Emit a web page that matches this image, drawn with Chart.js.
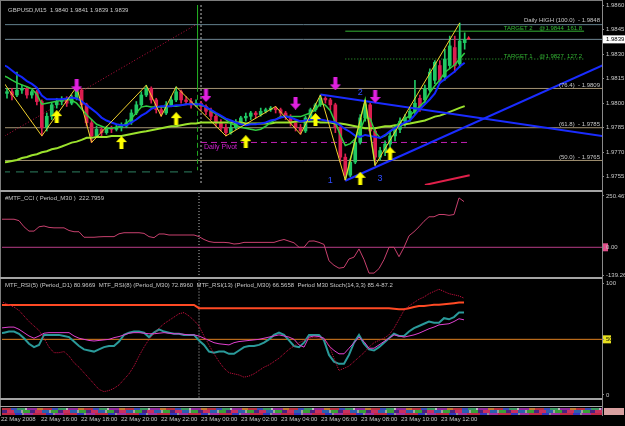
<!DOCTYPE html>
<html>
<head>
<meta charset="utf-8">
<script src="https://cdn.jsdelivr.net/npm/chart.js@4.4.1/dist/chart.umd.min.js"></script>
<style>
  html, body { margin: 0; padding: 0; background: #000; }
  #wrap { position: relative; width: 625px; height: 426px; overflow: hidden; background: #000; }
  .pane { position: absolute; left: 0; width: 625px; }
  .pane canvas { background: #000; }
  .line { position: absolute; background: #a4a4a4; }
  .strip {
    position: absolute; left: 2px; top: 408px; width: 600px; height: 7px;
    background-image:
      repeating-linear-gradient(90deg, #b83040 0 9px, #3a4ab8 9px 15px, #3a9860 15px 23px, #b8b8b8 23px 25px, #902898 25px 35px, #c07830 35px 41px),
      repeating-linear-gradient(90deg, #4a2280 0 5px, #c83060 5px 12px, #2a60b0 12px 19px, #a0a0a0 19px 21px, #38a038 21px 28px),
      repeating-linear-gradient(90deg, #c02848 0 13px, #3434c0 13px 20px, #909090 20px 22px, #a030a0 22px 31px);
    background-size: 100% 2px, 100% 3px, 100% 2px;
    background-position: 0 0, 0 2px, 0 5px;
    background-repeat: no-repeat;
  }
</style>
</head>
<body>
<div id="wrap">
  <div class="pane" style="top:0;height:190px"><canvas id="mainChart"></canvas></div>
  <div class="pane" style="top:193px;height:84px"><canvas id="cciChart"></canvas></div>
  <div class="pane" style="top:279px;height:147px"><canvas id="rsiChart"></canvas></div>
  <div class="line" style="left:0;top:0;width:603px;height:1px;background:#7c7c7c"></div>
  <div class="line" style="left:0;top:0;width:1px;height:416px;background:#7c7c7c"></div>
  <div class="line" style="left:0;top:190px;width:603px;height:2px"></div>
  <div class="line" style="left:0;top:277px;width:603px;height:2px"></div>
  <div class="line" style="left:0;top:398px;width:603px;height:2px"></div>
  <div class="line" style="left:0;top:406px;width:603px;height:1px"></div>
  <div class="line" style="left:602px;top:0;width:1px;height:416px;background:#8a8a8a"></div>
  <div class="strip"></div>
  <div class="line" style="left:604px;top:408px;width:20px;height:7px;background:#d8a0a0"></div>
</div>
<script>
// ---- data -------------------------------------------------------------
// bars are M15 candles, bar 0 = 22 May 2008 14:00
const candleOpen = [1.9810,1.9806,1.9807,1.9805,1.9808,1.9809,1.9805,1.9807,1.9801,1.9785,
  1.9792,1.9799,1.9801,1.9802,1.9800,1.9803,1.9808,1.9799,1.9788,1.9780,
  1.9784,1.9782,1.9785,1.9784,1.9785,1.9786,1.9788,1.9794,1.9799,1.9805,
  1.9809,1.9802,1.9796,1.9794,1.9799,1.9802,1.9807,1.9802,1.9801,1.9799,
  1.9800,1.9798,1.9795,1.9792,1.9788,1.9785,1.9782,1.9785,1.9788,1.9791,
  1.9792,1.9794,1.9793,1.9795,1.9796,1.9797,1.9796,1.9794,1.9792,1.9788,
  1.9785,1.9783,1.9791,1.9796,1.9799,1.9803,1.9802,1.9799,1.9785,1.9767,
  1.9756,1.9764,1.9776,1.9791,1.9799,1.9783,1.9767,1.9771,1.9775,1.9780,
  1.9784,1.9789,1.9791,1.9795,1.9803,1.9802,1.9808,1.9814,1.9823,1.9816,
  1.9823,1.9834,1.9824,1.9837];
const candleHigh = [1.9814,1.9809,1.9809,1.9819,1.9811,1.9810,1.9808,1.9808,1.9802,1.9794,
  1.9800,1.9803,1.9804,1.9804,1.9805,1.9810,1.9809,1.9800,1.9790,1.9786,
  1.9785,1.9786,1.9786,1.9787,1.9788,1.9790,1.9796,1.9801,1.9807,1.9811,
  1.9810,1.9803,1.9798,1.9801,1.9804,1.9810,1.9808,1.9804,1.9803,1.9802,
  1.9801,1.9799,1.9797,1.9793,1.9790,1.9787,1.9787,1.9790,1.9792,1.9794,
  1.9795,1.9795,1.9797,1.9797,1.9798,1.9798,1.9797,1.9795,1.9793,1.9789,
  1.9787,1.9792,1.9797,1.9800,1.9805,1.9804,1.9803,1.9800,1.9787,1.9769,
  1.9766,1.9778,1.9793,1.9802,1.9800,1.9785,1.9773,1.9777,1.9782,1.9786,
  1.9791,1.9793,1.9797,1.9814,1.9805,1.9811,1.9821,1.9826,1.9826,1.9833,
  1.9841,1.9841,1.9849,1.9843];
const candleLow = [1.9804,1.9803,1.9802,1.9804,1.9806,1.9803,1.9803,1.9799,1.9780,1.9783,
  1.9790,1.9797,1.9799,1.9798,1.9799,1.9802,1.9797,1.9786,1.9776,1.9779,
  1.9780,1.9781,1.9782,1.9783,1.9783,1.9785,1.9787,1.9793,1.9798,1.9804,
  1.9800,1.9794,1.9792,1.9793,1.9798,1.9801,1.9800,1.9799,1.9797,1.9798,
  1.9796,1.9793,1.9790,1.9786,1.9783,1.9780,1.9781,1.9784,1.9787,1.9789,
  1.9790,1.9791,1.9792,1.9794,1.9795,1.9794,1.9792,1.9790,1.9786,1.9783,
  1.9781,1.9782,1.9790,1.9795,1.9798,1.9800,1.9796,1.9782,1.9764,1.9753,
  1.9755,1.9763,1.9775,1.9789,1.9780,1.9762,1.9765,1.9768,1.9773,1.9777,
  1.9782,1.9786,1.9789,1.9793,1.9795,1.9800,1.9807,1.9812,1.9812,1.9814,
  1.9821,1.9819,1.9822,1.9833];
const candleClose = [1.9806,1.9807,1.9805,1.9808,1.9809,1.9805,1.9807,1.9801,1.9785,1.9792,
  1.9799,1.9801,1.9802,1.9800,1.9803,1.9808,1.9799,1.9788,1.9780,1.9784,
  1.9782,1.9785,1.9784,1.9785,1.9786,1.9788,1.9794,1.9799,1.9805,1.9809,
  1.9802,1.9796,1.9794,1.9799,1.9802,1.9807,1.9802,1.9801,1.9799,1.9800,
  1.9798,1.9795,1.9792,1.9788,1.9785,1.9782,1.9785,1.9788,1.9791,1.9792,
  1.9794,1.9793,1.9795,1.9796,1.9797,1.9796,1.9794,1.9792,1.9788,1.9785,
  1.9783,1.9791,1.9796,1.9799,1.9803,1.9802,1.9799,1.9785,1.9767,1.9756,
  1.9764,1.9776,1.9791,1.9799,1.9783,1.9767,1.9771,1.9775,1.9780,1.9784,
  1.9789,1.9791,1.9795,1.9800,1.9797,1.9809,1.9819,1.9825,1.9814,1.9827,
  1.9835,1.9823,1.9838,1.9839];

const maBlue = [1.98235,1.98224,1.98200,1.98176,1.98159,1.98135,1.98118,1.98094,1.98047,1.98024,
  1.98024,1.98024,1.98024,1.98029,1.98035,1.98029,1.98012,1.97988,1.97965,1.97941,
  1.97912,1.97894,1.97882,1.97871,1.97865,1.97865,1.97882,1.97900,1.97924,1.97941,
  1.97965,1.97976,1.97982,1.97982,1.97982,1.97988,1.97988,1.97994,1.97994,1.97994,
  1.97994,1.97976,1.97959,1.97941,1.97924,1.97906,1.97894,1.97882,1.97871,1.97865,
  1.97871,1.97871,1.97876,1.97882,1.97894,1.97900,1.97912,1.97918,1.97912,1.97900,
  1.97888,1.97894,1.97900,1.97906,1.97900,1.97894,1.97888,1.97882,1.97865,1.97841,
  1.97824,1.97800,1.97794,1.97806,1.97800,1.97794,1.97788,1.97806,1.97829,1.97847,
  1.97865,1.97882,1.97894,1.97929,1.97965,1.97994,1.98024,1.98059,1.98124,1.98147,
  1.98171,1.98194,1.98224,1.98247];
const maGreen = [1.98171,1.98159,1.98141,1.98124,1.98112,1.98100,1.98088,1.98053,1.97994,1.98000,
  1.98006,1.98012,1.98018,1.98024,1.98018,1.98000,1.97965,1.97929,1.97900,1.97871,
  1.97859,1.97847,1.97847,1.97853,1.97859,1.97876,1.97906,1.97941,1.97976,1.97982,
  1.97976,1.97976,1.97976,1.97976,1.97982,1.97982,1.97988,1.97994,1.97994,1.97994,
  1.97988,1.97976,1.97953,1.97935,1.97918,1.97900,1.97876,1.97865,1.97853,1.97847,
  1.97841,1.97835,1.97841,1.97859,1.97882,1.97900,1.97918,1.97918,1.97918,1.97918,
  1.97918,1.97929,1.97941,1.97959,1.98000,1.97988,1.97953,1.97882,1.97806,1.97741,
  1.97753,1.97782,1.97835,1.97912,1.97906,1.97824,1.97788,1.97800,1.97824,1.97853,
  1.97888,1.97906,1.97924,1.97953,1.97982,1.98012,1.98065,1.98106,1.98141,1.98188,
  1.98212,1.98235,1.98271,1.98306];
const maSlow = [1.97635,1.97641,1.97647,1.97653,1.97665,1.97671,1.97682,1.97688,1.97700,1.97706,
  1.97718,1.97724,1.97735,1.97747,1.97759,1.97765,1.97776,1.97788,1.97788,1.97794,
  1.97794,1.97794,1.97800,1.97800,1.97800,1.97806,1.97812,1.97818,1.97824,1.97829,
  1.97835,1.97841,1.97847,1.97853,1.97859,1.97859,1.97865,1.97871,1.97876,1.97876,
  1.97882,1.97882,1.97882,1.97882,1.97882,1.97882,1.97882,1.97882,1.97882,1.97876,
  1.97876,1.97876,1.97876,1.97876,1.97876,1.97882,1.97882,1.97882,1.97882,1.97888,
  1.97888,1.97888,1.97888,1.97888,1.97882,1.97882,1.97882,1.97876,1.97876,1.97871,
  1.97865,1.97859,1.97853,1.97847,1.97847,1.97847,1.97853,1.97859,1.97859,1.97865,
  1.97865,1.97871,1.97876,1.97882,1.97888,1.97894,1.97906,1.97918,1.97924,1.97935,
  1.97947,1.97959,1.97971,1.97982];

const zigzagBars   = [0, 8, 15, 18, 29, 32, 35, 45, 55, 60, 64, 69, 73, 75, 92];
const zigzagPrices = [1.9814,1.9780,1.9810,1.9776,1.9811,1.9792,1.9810,1.9780,1.9798,1.9781,1.9805,1.9753,1.9802,1.9762,1.9849];
const waveBars   = [69, 73, 75];
const wavePrices = [1.9753, 1.9802, 1.9762];
const waveLabelBars   = [66, 72, 76];
const waveLabelPrices = [1.9753, 1.98065, 1.9754];
const waveLabelTexts  = ['1', '2', '3'];

const upArrowBars     = [11, 24, 35, 49, 63, 72, 78];
const upArrowPrices   = [1.97918, 1.97759, 1.97906, 1.97765, 1.97900, 1.97541, 1.97694];
const downArrowBars   = [15, 41, 59, 67, 75];
const downArrowPrices = [1.98106, 1.98047, 1.98000, 1.98118, 1.98041];

const trendDownBars = [64, 121], trendDownPrices = [1.98053, 1.97797];
const trendUpBars   = [69, 121], trendUpPrices   = [1.97526, 1.98235];
const redLineBars   = [85, 94],  redLinePrices   = [1.9750, 1.9756];
const channelBars   = [0, 39],   channelPrices   = [1.9779, 1.9848];

const dailyHigh = 1.9848;
const lastPrice = 1.9839;
const targetNames  = ['TARGET 2', 'TARGET 1'];
const targetLevels = [1.9844, 1.9827];
const targetRatios = ['161.8', '127.2'];
const fiboNames  = ['(76.4)', '(61.8)', '(50.0)'];
const fiboLevels = [1.9809, 1.9785, 1.9765];
const dailyPivot = 1.9776;
const prevDayLevel = 1.9758;
const dayOpenBar = 39.3;
const separatorBar = 40;
const priceTicks = [1.9755, 1.9770, 1.9785, 1.9800, 1.9815, 1.9830, 1.9845, 1.9860];

const cciValues = [137,137,137,137,130,100,79,79,100,104,
  97,95,95,95,82,76,76,49,49,49,
  51,52,52,52,66,71,71,71,71,68,
  52,47,65,65,60,60,60,60,60,60,
  52,38,28,24,24,24,22,16,18,24,
  24,24,24,24,24,24,32,38,30,22,
  0,0,30,31,24,14,-66,-88,-102,-98,
  -57,-48,-8,-60,-126,-126,-104,-60,0,0,
  -46,0,56,76,100,127,149,149,160,160,
  156,160,241,223];
const cciTicks = [-139.262, 0, 250.467];

const rsiD1 = [80.9,80.9,80.9,80.9,80.9,80.9,80.9,80.9,80.9,80.9,
  80.9,80.9,80.9,80.9,80.9,80.9,80.9,80.9,80.9,80.9,
  80.9,80.9,80.9,80.9,80.9,80.9,80.9,80.9,80.9,80.9,
  80.9,80.9,80.9,80.9,80.9,80.9,80.9,80.9,80.9,80.9,
  78,78,78,78,78,78,78,78,78,78,
  78,78,78,78,78,78,78,78,78,78,
  78,78,78,78,78,78,78,78,78,78,
  78,78,78,78,78,78,78,78,78,77.5,
  77,77,78,79,80,80,80.5,81,81,81.5,
  82,82.5,83,83];
const stochMain = [84,83,81,79,76,71,66,62,58,51,
  43,38,38,39,35,29,25,20,15,10,
  5,3,4,6,9,14,19,26,35,43,
  50,55,60,64,67,70,73,74,71,67,
  62,53,45,37,30,24,20,19,18,16,
  17,19,22,25,27,30,33,37,41,44,
  47,49,51,52,51,50,45,33,22,24,
  26,30,34,38,43,47,49,51,54,60,
  68,76,80,83,86,88,91,93,95,93,
  91,90,89,87];
const rsi8 = [55,56,57,57,55,51,46,43,45,54,
  54,54,54,53,52,48,44,41,40,39,
  41,43,44,44,48,54,56,57,57,56,
  52,56,59,57,56,55,55,54,54,54,
  49,45,39,38,39,39,37,37,40,43,
  44,44,45,47,50,54,56,54,49,44,
  43,47,54,54,54,49,36,30,28,28,
  36,47,54,46,41,40,43,47,51,55,
  53,53,57,60,62,64,66,65,65,69,
  68,70,74,74];
const rsi13 = [60,60.5,61,61,59,56,53,51,53,55.5,
  56,56,56,56,56,53,51,50,49,48.5,
  49,49.5,50,51.5,52.5,54,55.5,56,56,55.5,
  55,55,55.5,56,55.5,55,55,54.5,54,54,
  53,51,49,47,46,45.5,45,47,48,48.5,
  49,49.5,50,51,52,53,54,53,52,50,
  45,43,52,53,52.5,51,44,40,37,37,
  42,47,52,48,42,42,45,48,51,54,
  53,52,53,54,55.5,57.5,59.5,61,63,63.5,
  64,66,68.5,67.5];
const rsiLevel = 50;
const rsiTicks = [0, 50, 100];

const timeTickBars = [0, 8, 16, 24, 32, 40, 48, 56, 64, 72, 80, 88];
const timeLabels = ['22 May 2008','22 May 16:00','22 May 18:00','22 May 20:00','22 May 22:00',
  '23 May 00:00','23 May 02:00','23 May 04:00','23 May 06:00','23 May 08:00','23 May 10:00','23 May 12:00'];

// ---- helpers ----------------------------------------------------------
const FAMILY = 'Liberation Sans';
const FONT = '6px "Liberation Sans"';
const TXT = '#c8c8c8';
const AXIS = '#8a8a8a';
const BULL = '#20c864';
const BEAR = '#dc1e50';
const X_MIN = 0.6, X_MAX = 120.6, X_END = 121;

const bars = candleOpen.map((_, j) => j);
const series = vals => vals.map((v, j) => ({ x: j, y: v }));
const seg = (xs, ys) => xs.map((x, k) => ({ x: x, y: ys[k] }));
const hline = (price, from, to) => [{ x: from, y: price }, { x: to, y: price }];
const line = (data, color, width, extra) => Object.assign({
  type: 'line', data: data, borderColor: color, borderWidth: width,
  pointRadius: 0, tension: 0, fill: false
}, extra || {});

function arrowImage(color, up) {
  const c = document.createElement('canvas');
  c.width = 11; c.height = 13;
  const g = c.getContext('2d');
  g.fillStyle = color;
  g.beginPath();
  const pts = [[5.5,0],[11,6],[7.5,6],[7.5,13],[3.5,13],[3.5,6],[0,6]];
  pts.forEach((p, i) => {
    const yy = up ? p[1] : 13 - p[1];
    if (i === 0) g.moveTo(p[0], yy); else g.lineTo(p[0], yy);
  });
  g.closePath();
  g.fill();
  return c;
}

function rightAxis(min, max, tickVals, fmt, colorFn) {
  return {
    type: 'linear', position: 'right', min: min, max: max,
    afterBuildTicks: s => { s.ticks = tickVals.map(v => ({ value: v })); },
    afterFit: s => { s.width = 23; s.paddingTop = 0; s.paddingBottom = 0; },
    ticks: { autoSkip: false, padding: 2, font: { family: FAMILY, size: 6 },
             color: colorFn || TXT, callback: fmt },
    grid: { drawOnChartArea: false, drawTicks: true, tickLength: 2, color: AXIS },
    border: { display: true, color: AXIS }
  };
}

const panelPlugin = {
  id: 'panel',
  beforeDraw(chart, args, opts) {
    const { ctx, chartArea: a, scales: { y } } = chart;
    (opts.boxes || []).forEach(b => {
      ctx.fillStyle = b.fill;
      ctx.fillRect(a.right + 1, y.getPixelForValue(b.value) - 4, b.width, 8);
    });
  },
  afterDatasetsDraw(chart, args, opts) {
    const { ctx, chartArea: a, scales: { x, y } } = chart;
    ctx.save();
    ctx.textBaseline = 'middle';
    if (opts.title) {
      ctx.font = FONT; ctx.fillStyle = TXT; ctx.textAlign = 'left';
      ctx.fillText(opts.title, a.left + 3, a.top + 5);
    }
    (opts.notes || []).forEach(n => {
      ctx.font = n.font || FONT;
      ctx.fillStyle = n.color;
      ctx.textAlign = n.align || 'left';
      ctx.fillText(n.text, x.getPixelForValue(n.bar), y.getPixelForValue(n.value) + (n.dy || 0));
    });
    ctx.restore();
  },
  afterDraw(chart, args, opts) {
    if (opts.priceBox === undefined) return;
    const { ctx, chartArea: a, scales: { y } } = chart;
    const py = y.getPixelForValue(opts.priceBox);
    ctx.save();
    ctx.fillStyle = '#ffffff';
    ctx.fillRect(a.right + 1, py - 4, 22, 8);
    ctx.fillStyle = '#000';
    ctx.font = FONT; ctx.textAlign = 'left'; ctx.textBaseline = 'middle';
    ctx.fillText(opts.priceBox.toFixed(4), a.right + 4, py);
    ctx.restore();
  }
};

const baseOpts = {
  responsive: true, maintainAspectRatio: false, animation: false,
  events: []
};

// ---- main price panel -------------------------------------------------
const candleColor = c => candleClose[c.dataIndex] >= candleOpen[c.dataIndex] ? BULL : BEAR;

const notes = [
  { bar: 120.2, value: dailyHigh, dy: -4, align: 'right', color: TXT,
    text: 'Daily HIGH (100.0)  - ' + dailyHigh.toFixed(4) },
  { bar: 40.6, value: dailyPivot, dy: 5, color: '#d020d0', font: '7px "Liberation Sans"', text: 'Daily Pivot' }
];
targetNames.forEach((n, k) => notes.push({ bar: 116.6, value: targetLevels[k], dy: -3, align: 'right',
  color: '#34b834', text: n + '    @' + targetLevels[k].toFixed(4) + '  ' + targetRatios[k] }));
fiboNames.forEach((n, k) => notes.push({ bar: 120.2, value: fiboLevels[k], dy: -3.5, align: 'right',
  color: TXT, text: n + '  - ' + fiboLevels[k].toFixed(4) }));
waveLabelTexts.forEach((t, k) => notes.push({ bar: waveLabelBars[k], value: waveLabelPrices[k], align: 'center',
  color: '#2f4cff', font: '9px "Liberation Sans"', text: t }));

const mainDatasets = [
  line(seg(upArrowBars, upArrowPrices), '#ffff00', 0, { showLine: false, pointRadius: 5, pointStyle: arrowImage('#ffff00', true), order: 0 }),
  line(seg(downArrowBars, downArrowPrices), '#e020e0', 0, { showLine: false, pointRadius: 5, pointStyle: arrowImage('#e020e0', false), order: 0 }),
  line([{ x: 93.8, y: 1.98397 }], '#ff2040', 0, { showLine: false, pointRadius: 2.5, pointStyle: 'triangle', pointBackgroundColor: '#ff2040', pointBorderWidth: 0, order: 0 }),
  line(seg(zigzagBars, zigzagPrices), '#f2d22e', 1, { order: 1 }),
  line(seg(waveBars, wavePrices), '#3ddc3d', 1.5, { order: 1 }),
  line(seg(trendDownBars, trendDownPrices), '#1a2cff', 2, { order: 2 }),
  line(seg(trendUpBars, trendUpPrices), '#1a2cff', 2, { order: 2 }),
  line(seg(redLineBars, redLinePrices), '#e0204a', 2, { order: 2 }),
  line(series(maBlue), '#1428ff', 2, { order: 3 }),
  line(series(maGreen), '#2ecc40', 1.5, { order: 3 }),
  line(series(maSlow), '#9be22d', 2, { order: 3 }),
  { type: 'bar', data: bars.map(j => ({ x: j, y: [candleOpen[j], candleClose[j]] })),
    backgroundColor: candleColor, barThickness: 3, minBarLength: 1, grouped: false, order: 4 },
  { type: 'bar', data: bars.map(j => ({ x: j, y: [candleLow[j], candleHigh[j]] })),
    backgroundColor: candleColor, barThickness: 1, grouped: false, order: 5 },
  line(hline(dailyHigh, 0, X_END), '#627f8c', 1, { order: 7 }),
  line(hline(lastPrice, 0, X_END), '#6f8794', 1, { order: 7 }),
  line(hline(targetLevels[0], 69, 117), '#35b335', 1, { order: 7 }),
  line(hline(targetLevels[1], 69, 117), '#35b335', 1, { borderDash: [1, 2], order: 7 }),
  line(hline(dailyPivot, separatorBar, 94), '#c020b0', 1, { borderDash: [6, 4], order: 7 }),
  line(hline(prevDayLevel, 0, 39), '#2e8060', 1, { borderDash: [8, 6], order: 7 }),
  line(seg(channelBars, channelPrices), '#c01040', 1, { borderDash: [1, 2], order: 7 }),
  line([{ x: dayOpenBar, y: 1.9860 }, { x: dayOpenBar, y: 1.9810 }], '#22aa22', 1, { order: 7 }),
  line([{ x: dayOpenBar, y: 1.9810 }, { x: dayOpenBar, y: 1.9759 }], '#22aa22', 1, { borderDash: [5, 3], order: 7 }),
  line([{ x: separatorBar, y: 1.9860 }, { x: separatorBar, y: 1.9750 }], '#bcbcbc', 1, { borderDash: [2, 2], order: 7 })
];
fiboLevels.forEach(p => mainDatasets.push(line(hline(p, 0, X_END), '#a39272', 1, { order: 7 })));

new Chart(document.getElementById('mainChart'), {
  type: 'line',
  data: { datasets: mainDatasets },
  plugins: [panelPlugin],
  options: Object.assign({}, baseOpts, {
    layout: { padding: { left: 2, top: 2, right: 0, bottom: 1 } },
    plugins: {
      legend: { display: false }, tooltip: { enabled: false },
      panel: { title: 'GBPUSD,M15  1.9840 1.9841 1.9839 1.9839', notes: notes, priceBox: lastPrice }
    },
    scales: {
      x: { type: 'linear', min: X_MIN, max: X_MAX, offset: false, display: false },
      y: rightAxis(1.9750, 1.9860, priceTicks, v => v.toFixed(4))
    }
  })
});

// ---- CCI panel --------------------------------------------------------
new Chart(document.getElementById('cciChart'), {
  type: 'line',
  data: { datasets: [
    line(series(cciValues), '#c8406e', 1, { order: 0 }),
    line(hline(0, 0, X_END), '#b83c88', 1, { order: 1 }),
    line([{ x: separatorBar, y: -150 }, { x: separatorBar, y: 270 }], '#bcbcbc', 1, { borderDash: [1, 2], order: 2 })
  ] },
  plugins: [panelPlugin],
  options: Object.assign({}, baseOpts, {
    layout: { padding: { left: 2, top: 0, right: 0, bottom: 0 } },
    plugins: {
      legend: { display: false }, tooltip: { enabled: false },
      panel: { title: '#MTF_CCI ( Period_M30 )  222.7959', boxes: [{ value: 0, width: 5, fill: '#e0508c' }] }
    },
    scales: {
      x: { type: 'linear', min: X_MIN, max: X_MAX, offset: false, display: false },
      y: rightAxis(-145, 265, cciTicks, v => (v === 0 ? '0.00' : String(v)))
    }
  })
});

// ---- RSI / Stoch panel ------------------------------------------------
new Chart(document.getElementById('rsiChart'), {
  type: 'line',
  data: { datasets: [
    line(series(stochMain), '#d01040', 1, { borderDash: [1, 1], order: 0 }),
    line(series(rsi13), '#e040d0', 1, { order: 1 }),
    line(series(rsi8), '#2a9a9a', 2, { order: 2 }),
    line(series(rsiD1), '#ff4a24', 2, { order: 3 }),
    line(hline(rsiLevel, 0, X_END), '#e08020', 1, { order: 4 }),
    line([{ x: separatorBar, y: -5 }, { x: separatorBar, y: 105 }], '#bcbcbc', 1, { borderDash: [1, 2], order: 5 })
  ] },
  plugins: [panelPlugin],
  options: Object.assign({}, baseOpts, {
    layout: { padding: { left: 2, top: 1, right: 0, bottom: 0 } },
    plugins: {
      legend: { display: false }, tooltip: { enabled: false },
      panel: {
        title: 'MTF_RSI(5) (Period_D1) 80.9669  MTF_RSI(8) (Period_M30) 72.8960  MTF_RSI(13) (Period_M30) 66.5658  Period M30 Stoch(14,3,3) 85.4-87.2',
        boxes: [{ value: rsiLevel, width: 8, fill: '#e8e020' }]
      }
    },
    scales: {
      x: {
        type: 'linear', min: X_MIN, max: X_MAX, offset: false,
        afterBuildTicks: s => { s.ticks = timeTickBars.map(v => ({ value: v })); },
        afterFit: s => { s.height = 28; s.paddingLeft = 0; s.paddingRight = 0; },
        ticks: { autoSkip: false, maxRotation: 0, align: 'start', padding: 18, labelOffset: 2,
                 color: TXT, font: { family: FAMILY, size: 6 }, callback: (v, i) => timeLabels[i] },
        grid: { display: false, drawTicks: false },
        border: { display: false }
      },
      y: rightAxis(-2.7, 103.3, rsiTicks, v => String(v), c => (c.tick && c.tick.value === rsiLevel ? '#202000' : TXT))
    }
  })
});
</script>
</body>
</html>
